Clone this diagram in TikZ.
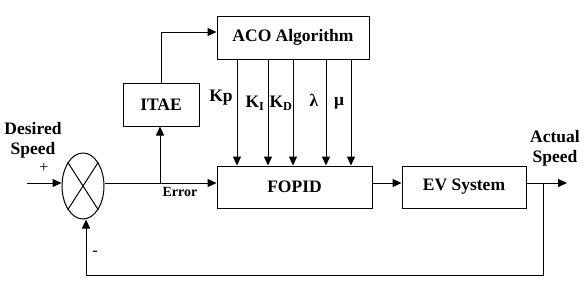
\documentclass[tikz,border=0pt]{standalone}
\usepackage{fontspec}
\setmainfont{Liberation Serif}
\usetikzlibrary{shapes.geometric,arrows.meta}

\begin{document}
\begin{tikzpicture}[x=1pt,y=-1pt,line width=1pt,
  every node/.style={font=\fontsize{17.5}{20}\selectfont\bfseries},
  blk/.style={draw,minimum height=43pt,inner sep=0pt},
  arr/.style={-{Triangle[length=9pt,width=8pt]}}]
\useasboundingbox (0,0) rectangle (585,287);
% blocks
\node[blk,minimum width=152pt] (aco) at (293,37.5) {ACO Algorithm};
\node[blk,minimum width=76pt] (itae) at (161,104.5) {ITAE};
\node[blk,minimum width=155pt,minimum height=42pt] (fopid) at (294.5,187) {FOPID};
\node[blk,minimum width=124pt,minimum height=42pt] (ev) at (464,187) {EV System};
\node[draw,ellipse,minimum width=42pt,minimum height=66pt,inner sep=0pt] (sum) at (83,186) {};
\draw (sum.north west) -- (sum.south east);
\draw (sum.north east) -- (sum.south west);
% gains
\foreach \gx in {237,268,293,326,351}
  \draw[arr] (\gx,0 |- aco.south) -- (\gx,0 |- fopid.north);
\node (kp) at (221,98) {Kp};
\node (ki) at (255,103) {K\textsubscript{I}};
\node (kd) at (281,103) {K\textsubscript{D}};
\node (lam) at (314,100) {λ};
\node (mu) at (339,103) {μ};
% labels
\node[align=center] (desired) at (33,140) {Desired\\Speed};
\node[align=center] (actual) at (555,148) {Actual\\Speed};
\node[font=\fontsize{14}{16}\selectfont\bfseries] (err) at (180,192) {Error};
\node[font=\fontsize{16}{18}\selectfont] (plus) at (44,168) {+};
\node[font=\fontsize{16}{18}\selectfont] (minus) at (95,253) {-};
% signal lines
\coordinate (in) at (27,183);
\coordinate (br) at (160,183);
\coordinate (tap) at (543,183);
\coordinate (out) at (567,183);
\coordinate (fb) at (86,275);
\draw[arr] (in) -- (sum.west |- in);
\draw[arr] (sum.east |- br) -- (fopid.west |- br);
\draw[arr] (br) -- (br |- itae.south);
\draw[arr] (itae.north) |- ([yshift=5.5pt]aco.west);
\draw[arr] ([yshift=4pt]fopid.east) -- ([yshift=4pt]ev.west);
\draw[arr] ([yshift=4pt]ev.east) -- (out);
\draw[arr] (tap) |- (fb) -- (fb |- sum.south);
\end{tikzpicture}
\end{document}
